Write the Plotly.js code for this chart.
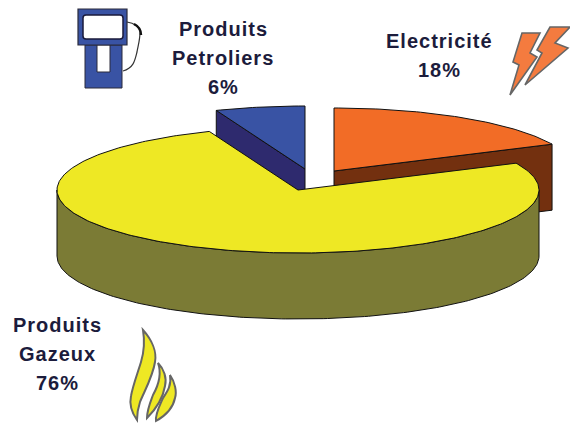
<!DOCTYPE html>
<html lang="fr">
<head>
<meta charset="utf-8">
<title>Consommation par produit</title>
<script src="https://cdn.plot.ly/plotly-3.0.1.min.js"></script>
<style>
  html, body { margin: 0; padding: 0; background: #fff; }
  .annotation-text { letter-spacing: 1px; }
</style>
</head>
<body>
<div id="chart" style="width:570px;height:426px"></div>
<script>
// Shares by product, in pie order, clockwise from twelve o'clock
const categories = ['Electricité', 'Produits Gazeux', 'Produits Petroliers'];
const shares = [18, 76, 6];

// Slice styling, same order as the shares
const topColors = ['#F26C26', '#EEE824', '#3953A4'];
const wallColors = ['#73300F', '#7B7B35', '#2E2A6E'];
const sliceCentres = [[334, 171], [298, 190], [305, 169]];

// Tilted-disc geometry
const radiusX = 241, radiusY = 63, depth = 66;
const step = 1;

function rimPoint(c, deg, drop) {
  const t = deg * Math.PI / 180;
  return [c[0] + radiusX * Math.cos(t), c[1] - radiusY * Math.sin(t) + drop];
}
function polygon(points, fill) {
  const closed = points.concat([points[0]]);
  return {
    x: closed.map(p => p[0]), y: closed.map(p => p[1]),
    type: 'scatter', mode: 'lines', fill: 'toself', fillcolor: fill,
    line: {color: '#111', width: 1}, hoverinfo: 'skip', showlegend: false
  };
}
// Clockwise arc between two angles, in degrees
function arc(c, from, to, drop) {
  const pts = [];
  for (let a = from; a > to; a -= step) pts.push(rimPoint(c, a, drop));
  pts.push(rimPoint(c, to, drop));
  return pts;
}

// Angular extent of each slice
let cursor = 90;
const spans = shares.map(v => {
  const from = cursor;
  cursor -= v * 3.6;
  return [from, cursor];
});

const walls = [], tops = [];
shares.forEach((v, i) => {
  const c = sliceCentres[i], [from, to] = spans[i];
  let wall;
  if (from >= 0 && to <= -180) {
    // The slice wraps the whole front half, so its rim is what shows
    wall = arc(c, 0, -180, 0).concat(arc(c, 0, -180, depth).reverse());
  } else {
    // Otherwise only the cut face toward the viewer shows
    const edge = i === 0 ? to : from;
    wall = [c, rimPoint(c, edge, 0), rimPoint(c, edge, depth), [c[0], c[1] + depth]];
  }
  walls.push(polygon(wall, wallColors[i]));
  tops.push(polygon([c].concat(arc(c, from, to, 0)), topColors[i]));
});

// Back slices first so the large slice overlaps them
const order = [2, 0, 1];
const traces = [];
order.forEach(i => { traces.push(walls[i], tops[i]); });

// Labels, one entry per printed line
const labelLines = [
  ['Electricité', '18%'],
  ['Produits', 'Gazeux', '76%'],
  ['Produits', 'Petroliers', '6%']
];
const labelAnchors = [[439, 41], [57, 325], [223, 29]];
const lineStep = 29;
const annotations = [];
labelLines.forEach((lines, i) => {
  lines.forEach((text, j) => {
    annotations.push({
      text, xref: 'x', yref: 'y', x: labelAnchors[i][0], y: labelAnchors[i][1] + j * lineStep,
      xanchor: 'center', yanchor: 'middle', showarrow: false,
      font: {family: '"Liberation Sans", Arial, sans-serif', size: 20, color: '#1c1c3c', weight: 700}
    });
  });
});

// Pictograms beside the labels
const pump = '#3953A4', outline = '#2a2a3a', boltFill = '#F47B3F', flameLine = '#666';
const shapes = [
  // fuel pump: hose, lower body, window, head, screen
  {type: 'path', path: 'M127,22 C134,23 140,27 140,32 C140,40 138,46 137,52 C135,60 134,68 123,71',
   line: {color: '#333', width: 1.2}},
  {type: 'path', path: 'M134,24 C138,26 141,29 141,35', line: {color: '#111', width: 2.5}},
  {type: 'rect', x0: 85, x1: 122, y0: 45, y1: 88, fillcolor: pump, line: {color: outline, width: 1}},
  {type: 'rect', x0: 97, x1: 110, y0: 45, y1: 72, fillcolor: '#fff', line: {color: outline, width: 1}},
  {type: 'rect', x0: 78, x1: 127, y0: 9, y1: 45, fillcolor: pump, line: {color: outline, width: 1.2}},
  {type: 'path', path: 'M86,15 L120,15 Q123,15 123,18 L123,36 Q123,39 120,39 L86,39 Q83,39 83,36 L83,18 Q83,15 86,15 Z',
   fillcolor: '#fff', line: {color: '#1a1a3a', width: 1.5}},
  // lightning bolts
  {type: 'path', path: 'M550,27 L570,27 L555,43 L568,48 L525,85 L542,53 L537,50 Z',
   fillcolor: boltFill, line: {color: flameLine, width: 1.6}},
  {type: 'path', path: 'M522,33 L540,33 L530,53 L537,57 L510,95 L519,65 L513,62 Z',
   fillcolor: boltFill, line: {color: flameLine, width: 1.6}},
  // flame: main tongue and two smaller ones
  {type: 'path', path: 'M143,330 C152,340 157,352 155,362 C153,376 144,392 140,402 C138,408 137,414 137,420 C132,413 129,405 131,396 C133,385 137,375 141,362 C144,352 145,342 143,330 Z',
   fillcolor: '#EEE824', line: {color: flameLine, width: 2}},
  {type: 'path', path: 'M158,363 C164,369 167,378 165,386 C163,398 155,410 147,418 C147,410 150,403 153,395 C158,386 162,374 158,363 Z',
   fillcolor: '#EEE824', line: {color: flameLine, width: 2}},
  {type: 'path', path: 'M170,375 C175,382 177,392 175,398 C173,408 165,416 156,421 C155,414 160,405 163,398 C167,392 172,385 170,375 Z',
   fillcolor: '#EEE824', line: {color: flameLine, width: 2}}
].map(s => Object.assign({xref: 'x', yref: 'y', layer: 'above'}, s));

const layout = {
  width: 570, height: 426,
  margin: {l: 0, r: 0, t: 0, b: 0},
  paper_bgcolor: '#fff', plot_bgcolor: '#fff',
  xaxis: {range: [0, 570], visible: false, fixedrange: true},
  yaxis: {range: [426, 0], visible: false, fixedrange: true},
  showlegend: false, annotations, shapes
};
Plotly.newPlot('chart', traces, layout, {displayModeBar: false, staticPlot: true});
</script>
</body>
</html>
